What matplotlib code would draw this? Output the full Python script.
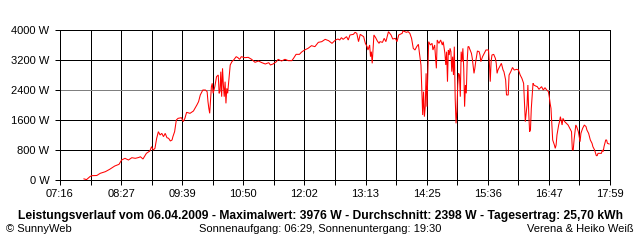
"""
SunnyWeb daily power curve for 06.04.2009, redrawn with matplotlib.
"""
import matplotlib

matplotlib.use("Agg")
import matplotlib.pyplot as plt
from matplotlib.ticker import FixedLocator, FixedFormatter

plt.rcParams["font.family"] = ["Liberation Sans", "DejaVu Sans"]

# Readings (clock time, power in W)
times = [
    "07:44", "07:47", "07:51", "07:53", "07:59", "08:03", "08:09", "08:14", "08:20", "08:25",
    "08:28", "08:32", "08:36", "08:40", "08:44", "08:48", "08:50", "08:53", "08:57", "09:01",
    "09:03", "09:05", "09:07", "09:09", "09:11", "09:13", "09:15", "09:17", "09:19", "09:21",
    "09:23", "09:25", "09:27", "09:28", "09:30", "09:32", "09:34", "09:38", "09:40", "09:42",
    "09:44", "09:48", "09:52", "09:56", "09:58", "10:00", "10:03", "10:06", "10:08", "10:09",
    "10:10", "10:11", "10:13", "10:14", "10:15", "10:17", "10:19", "10:21", "10:22", "10:23",
    "10:24", "10:25", "10:26", "10:27", "10:28", "10:29", "10:30", "10:31", "10:32", "10:34",
    "10:35", "10:37", "10:39", "10:42", "10:44", "10:46", "10:48", "10:52", "10:56", "11:00",
    "11:04", "11:08", "11:12", "11:16", "11:20", "11:22", "11:25", "11:29", "11:31", "11:35",
    "11:39", "11:43", "11:47", "11:49", "11:52", "11:56", "11:57", "11:59", "12:02", "12:06",
    "12:10", "12:14", "12:18", "12:22", "12:26", "12:30", "12:34", "12:38", "12:41", "12:43",
    "12:45", "12:47", "12:51", "12:53", "12:55", "12:59", "13:01", "13:03", "13:05", "13:07",
    "13:11", "13:13", "13:15", "13:16", "13:18", "13:19", "13:20", "13:21", "13:22", "13:23",
    "13:25", "13:27", "13:29", "13:30", "13:33", "13:35", "13:37", "13:40", "13:43", "13:45",
    "13:48", "13:50", "13:52", "13:56", "13:57", "14:01", "14:03", "14:05", "14:07", "14:09",
    "14:11", "14:13", "14:15", "14:16", "14:18", "14:19", "14:20", "14:21", "14:22", "14:23",
    "14:24", "14:25", "14:27", "14:29", "14:31", "14:32", "14:34", "14:36", "14:37", "14:39",
    "14:41", "14:43", "14:44", "14:46", "14:47", "14:48", "14:49", "14:50", "14:51", "14:52",
    "14:53", "14:54", "14:55", "14:56", "14:57", "14:58", "14:59", "15:00", "15:01", "15:02",
    "15:03", "15:04", "15:05", "15:06", "15:07", "15:08", "15:09", "15:10", "15:11", "15:12",
    "15:13", "15:14", "15:15", "15:17", "15:18", "15:20", "15:21", "15:22", "15:24", "15:26",
    "15:27", "15:28", "15:30", "15:32", "15:34", "15:37", "15:38", "15:39", "15:40", "15:41",
    "15:43", "15:45", "15:46", "15:47", "15:48", "15:50", "15:52", "15:54", "15:55", "15:57",
    "15:58", "16:00", "16:01", "16:03", "16:05", "16:07", "16:10", "16:12", "16:14", "16:16",
    "16:18", "16:19", "16:20", "16:22", "16:23", "16:24", "16:25", "16:26", "16:27", "16:29",
    "16:30", "16:32", "16:34", "16:36", "16:37", "16:39", "16:41", "16:43", "16:45", "16:47",
    "16:48", "16:49", "16:50", "16:51", "16:52", "16:54", "16:55", "16:56", "16:57", "16:59",
    "17:00", "17:01", "17:03", "17:04", "17:06", "17:08", "17:10", "17:12", "17:14", "17:15",
    "17:16", "17:17", "17:19", "17:20", "17:22", "17:24", "17:25", "17:27", "17:29", "17:31",
    "17:32", "17:34", "17:36", "17:38", "17:39", "17:41", "17:43", "17:44", "17:45", "17:47",
    "17:49", "17:50", "17:51", "17:52", "17:54", "17:55", "17:56", "17:58",
]
power_w = [
    30, 10, 90, 115, 120, 178, 222, 284, 373, 418,
    533, 578, 533, 595, 578, 600, 620, 560, 711, 773,
    889, 800, 844, 1111, 1289, 1200, 1244, 1156, 1244, 1129,
    1111, 1040, 1067, 1156, 1289, 1600, 1644, 1662, 1556, 1644,
    1804, 1778, 1840, 2000, 2089, 2267, 2400, 2400, 2356, 2089,
    1911, 1778, 2489, 2578, 2311, 2489, 2756, 2800, 2311, 2356,
    2889, 2222, 2978, 2533, 2222, 2622, 2044, 2444, 2311, 2800,
    3067, 3156, 3200, 3289, 3262, 3218, 3289, 3262, 3271, 3218,
    3138, 3173, 3129, 3093, 3129, 3067, 3093, 3156, 3218, 3173,
    3218, 3182, 3182, 3244, 3351, 3351, 3378, 3422, 3467, 3511,
    3582, 3556, 3671, 3689, 3751, 3716, 3644, 3733, 3760, 3733,
    3796, 3751, 3822, 3733, 3867, 3884, 3938, 3911, 3689, 3884,
    3822, 3644, 3556, 3467, 3600, 3289, 3422, 3111, 3511, 3867,
    3796, 3707, 3644, 3689, 3671, 3778, 3689, 3956, 3867, 3760,
    3778, 3689, 3867, 3911, 3976, 3938, 3956, 3911, 3778, 3511,
    3467, 3556, 3618, 3422, 3067, 2400, 1733, 2356, 1689, 1956,
    2844, 1956, 3689, 3600, 3644, 3467, 3600, 2978, 3733, 3644,
    3733, 3600, 3689, 3378, 3067, 3422, 2622, 3467, 3333, 3511,
    3422, 2889, 3289, 2800, 3556, 2178, 1511, 1822, 2533, 2844,
    2800, 2222, 3422, 3156, 3511, 2978, 1956, 2533, 2311, 3156,
    3556, 3556, 3493, 3378, 3244, 2844, 2978, 3156, 3440, 3422,
    3333, 3156, 3289, 3378, 3467, 3467, 3111, 2622, 3156, 3333,
    3351, 3244, 3111, 2844, 2933, 3022, 3111, 2933, 2889, 2667,
    2267, 2267, 2800, 2889, 3000, 2933, 2951, 2933, 2800, 2711,
    2578, 2089, 1556, 2000, 2533, 1778, 1289, 1333, 1911, 2578,
    2533, 2507, 2489, 2418, 2444, 2489, 2400, 2462, 2400, 2356,
    2222, 2044, 1911, 1467, 1067, 933, 844, 933, 1200, 1467,
    1556, 1689, 1467, 1644, 1556, 1511, 1467, 1378, 1289, 800,
    800, 1067, 1467, 1422, 1289, 1022, 1244, 1378, 1467, 1422,
    1333, 1244, 1067, 978, 889, 800, 649, 649, 711, 711,
    711, 800, 756, 889, 1067, 1067, 978, 960,
]

x_tick_labels = ["07:16", "08:27", "09:39", "10:50", "12:02",
                 "13:13", "14:25", "15:36", "16:47", "17:59"]
y_ticks = [0, 800, 1600, 2400, 3200, 4000]
average_w = 2398

title = ("Leistungsverlauf vom 06.04.2009 - Maximalwert: 3976 W - "
         "Durchschnitt: 2398 W - Tagesertrag: 25,70 kWh")
sun_text = "Sonnenaufgang: 06:29, Sonnenuntergang: 19:30"


def to_minutes(hhmm):
    h, m = hhmm.split(":")
    return int(h) * 60 + int(m)


t = [to_minutes(s) for s in times]
t0 = to_minutes(x_tick_labels[0])
t1 = to_minutes(x_tick_labels[-1])
n = len(x_tick_labels) - 1
major = [t0 + (t1 - t0) * i / n for i in range(n + 1)]
minor = [(a + b) / 2 for a, b in zip(major[:-1], major[1:])]

PX = 0.72  # one pixel in points at 100 dpi

fig = plt.figure(figsize=(6.4, 2.4), dpi=100)
ax = fig.add_axes([60 / 640, 60 / 240, 550 / 640, 150 / 240])

ax.set_xlim(t0, t1)
ax.set_ylim(0, 4000)

ax.xaxis.set_major_locator(FixedLocator(major))
ax.xaxis.set_major_formatter(FixedFormatter(x_tick_labels))
ax.xaxis.set_minor_locator(FixedLocator(minor))
ax.yaxis.set_major_locator(FixedLocator(y_ticks))
ax.set_yticklabels([f"{v} W" for v in y_ticks])

ax.grid(True, which="both", color="black", linewidth=PX, antialiased=False)
ax.set_axisbelow(True)
ax.axhline(average_w, color="#808080", linewidth=PX, antialiased=False, zorder=1.5)

ax.plot(t, power_w, color="#ff0000", linewidth=0.75, solid_joinstyle="miter",
        zorder=3)

ax.tick_params(axis="both", which="both", direction="out", length=5 * PX,
               width=PX, color="black", labelsize=8)
ax.tick_params(axis="x", pad=3)
ax.tick_params(axis="y", pad=4)
for sp in ax.spines.values():
    sp.set_linewidth(PX)
    sp.set_color("black")

fig.text(0.5, 1 - 216 / 240, title, ha="center", va="center",
         fontsize=8.7, fontweight="bold")
fig.text(6 / 640, 1 - 229 / 240, "\u00a9 SunnyWeb", ha="left", va="center", fontsize=8)
fig.text(320 / 640, 1 - 229 / 240, sun_text, ha="center", va="center", fontsize=8)
fig.text(634 / 640, 1 - 229 / 240, "Verena & Heiko Wei\u00df", ha="right", va="center",
         fontsize=8)

fig.savefig("out.png", dpi=100)
